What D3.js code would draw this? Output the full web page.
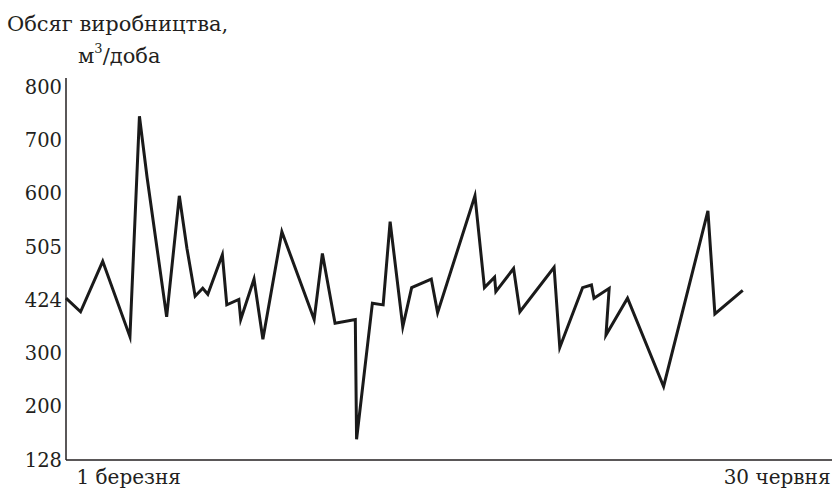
<!DOCTYPE html>
<html>
<head>
<meta charset="utf-8">
<script src="https://cdn.jsdelivr.net/npm/d3@7/dist/d3.min.js"></script>
<style>
  body { margin: 0; background: #fff; }
  svg { display: block; }
  svg text { font-family: 'DejaVu Serif', 'Liberation Serif', serif !important; fill: #231f20; }
</style>
</head>
<body>
<svg id="chart" width="832" height="495"></svg>
<script>
// Y tick labels (evenly spaced on the original chart)
const yTicks = [128, 200, 300, 424, 505, 600, 700, 800];
// X axis: days from 1 March (0) to 30 June (121)
const xTickDays = [0, 121];
const xTickLabels = ["1 березня", "30 червня"];
// Series: day offset and production volume (m³/day)
const days = [0, 2.3, 5.8, 10.1, 11.6, 12.8, 15.9, 17.9, 19.1, 20.4, 21.6, 22.4, 24.7, 25.4, 27.3, 27.6,
  29.7, 31.1, 34.1, 39.2, 40.5, 42.5, 45.7, 45.9, 48.4, 50.1, 51.2, 53.2, 54.6, 57.7, 58.7, 64.6,
  66.1, 67.7, 67.9, 70.7, 71.7, 77.1, 78.0, 81.6, 83.0, 83.4, 85.8, 85.3, 88.7, 94.4, 101.4, 102.5, 106.9];
const volumes = [427, 397, 483, 339, 745, 631, 385, 596, 503, 430, 442, 433, 493, 413, 425, 379,
  456, 333, 532, 379, 495, 370, 379, 156, 417, 413, 550, 362, 443, 456, 395, 596,
  443, 459, 437, 472, 397, 474, 314, 443, 447, 427, 442, 343, 427, 238, 569, 392, 439];

const svg = d3.select("#chart");
const x0 = 66, x1 = 832, yBottom = 460, yTop = 87;
const serif = "'DejaVu Serif', 'Liberation Serif', serif";

const x = d3.scaleLinear().domain([0, 121]).range([x0, x1]);
const step = (yBottom - yTop) / (yTicks.length - 1);
const y = d3.scaleLinear().domain(yTicks).range(yTicks.map((d, i) => yBottom - i * step));

// Y axis
const yAxis = svg.append("g").attr("transform", `translate(${x0},0)`)
  .call(d3.axisLeft(y).tickValues(yTicks).tickSize(0).tickPadding(4));
yAxis.attr("font-family", serif);
yAxis.select(".domain").remove();
yAxis.selectAll("text").style("font-size", "19.5px").attr("fill", "#231f20");
svg.append("line").attr("x1", x0).attr("x2", x0).attr("y1", yTop - 9).attr("y2", yBottom)
  .attr("stroke", "#231f20").attr("stroke-width", 1.5);

// X axis
const xAxis = svg.append("g").attr("transform", `translate(0,${yBottom})`)
  .call(d3.axisBottom(x).tickValues(xTickDays).tickSize(0).tickPadding(6)
    .tickFormat((d, i) => xTickLabels[i]));
xAxis.attr("font-family", serif);
xAxis.select(".domain").remove();
xAxis.selectAll("text").style("font-size", "20px").attr("fill", "#231f20")
  .attr("dy", "0.9em")
  .attr("text-anchor", (d, i) => i === 0 ? "start" : "end")
  .attr("dx", (d, i) => i === 0 ? 10 : -2);
svg.append("line").attr("x1", x0).attr("x2", x1).attr("y1", yBottom).attr("y2", yBottom)
  .attr("stroke", "#231f20").attr("stroke-width", 1.5);

// Line
const data = days.map((d, i) => ({ d, v: volumes[i] }));
svg.append("path").datum(data)
  .attr("fill", "none").attr("stroke", "#1a1a1a").attr("stroke-width", 3)
  .attr("stroke-linejoin", "miter").attr("stroke-miterlimit", 6)
  .attr("d", d3.line().x(p => x(p.d)).y(p => y(p.v)));

// Title
svg.append("text").attr("x", 7).attr("y", 31).attr("font-family", serif).style("font-size", "21px").text("Обсяг виробництва,");
const t2 = svg.append("text").attr("x", 78).attr("y", 63).attr("font-family", serif).style("font-size", "21px");
t2.append("tspan").text("м");
t2.append("tspan").attr("dy", -10).style("font-size", "13px").text("3");
t2.append("tspan").attr("dy", 10).text("/доба");
</script>
</body>
</html>
